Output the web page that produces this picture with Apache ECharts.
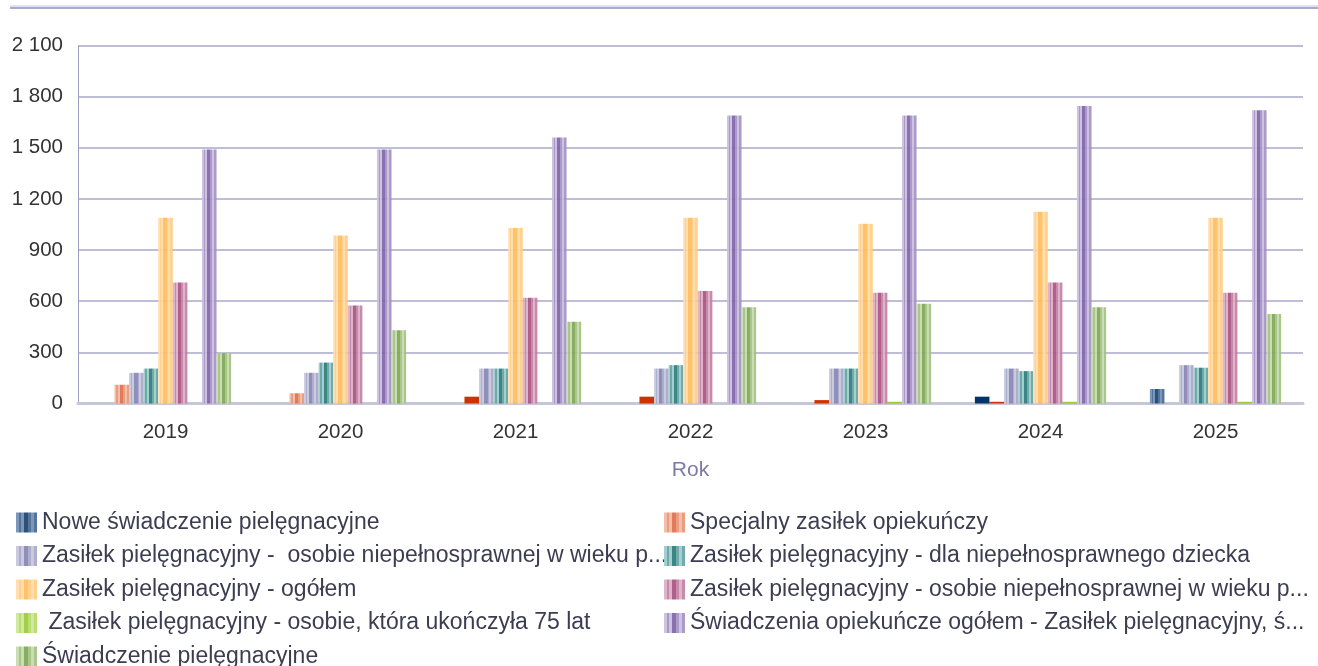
<!DOCTYPE html>
<html>
<head>
<meta charset="utf-8">
<script src="https://cdn.jsdelivr.net/npm/echarts@6/dist/echarts.min.js"></script>
<style>
  html, body { margin: 0; padding: 0; background: #ffffff; }
  #chart { width: 1318px; height: 666px; }
</style>
</head>
<body>
<div id="chart"></div>
<script>
// Years on the category axis
const years = ['2019', '2020', '2021', '2022', '2023', '2024', '2025'];

// Series names
const seriesNames = [
  'Nowe świadczenie pielęgnacyjne',
  'Specjalny zasiłek opiekuńczy',
  'Zasiłek pielęgnacyjny -  osobie niepełnosprawnej w wieku powyżej 16 roku życia o umiarkowanym stopniu niepełnosprawności',
  'Zasiłek pielęgnacyjny - dla niepełnosprawnego dziecka',
  'Zasiłek pielęgnacyjny - ogółem',
  'Zasiłek pielęgnacyjny - osobie niepełnosprawnej w wieku powyżej 16 roku życia o znacznym stopniu niepełnosprawności',
  ' Zasiłek pielęgnacyjny - osobie, która ukończyła 75 lat',
  'Świadczenia opiekuńcze ogółem - Zasiłek pielęgnacyjny, świadczenie pielęgnacyjne, specjalny zasiłek opiekuńczy',
  'Świadczenie pielęgnacyjne'
];

// Values per series, one entry per year
const noweSwiadczenie = [0, 0, 0, 0, 0, 40, 85];
const specjalnyZasilek = [110, 60, 40, 40, 20, 10, 0];
const zpUmiarkowany = [180, 180, 205, 205, 205, 205, 225];
const zpDziecko = [205, 240, 205, 225, 205, 190, 210];
const zpOgolem = [1090, 985, 1030, 1090, 1055, 1125, 1090];
const zpZnaczny = [710, 575, 620, 660, 650, 710, 650];
const zp75 = [0, 0, 0, 0, 10, 10, 10];
const opiekunczeOgolem = [1490, 1490, 1560, 1690, 1690, 1745, 1720];
const swiadczeniePiel = [295, 430, 480, 565, 585, 565, 525];

// Value axis ticks
const yTicks = [0, 300, 600, 900, 1200, 1500, 1800, 2100];

const seriesValues = [
  noweSwiadczenie, specjalnyZasilek, zpUmiarkowany, zpDziecko, zpOgolem,
  zpZnaczny, zp75, opiekunczeOgolem, swiadczeniePiel
];

// Palette: light stripe, dark stripe, solid fill for short bars
const palette = [
  { light: '#6f8fb6', dark: '#1d406c', solid: '#003366' },
  { light: '#f3b9a0', dark: '#df6f4c', solid: '#cc3300' },
  { light: '#c6c6dc', dark: '#8585b4', solid: '#9a9ac4' },
  { light: '#9ccbca', dark: '#2a7b7b', solid: '#2a7b7b' },
  { light: '#ffdcaa', dark: '#ffbd5c', solid: '#ffbd5c' },
  { light: '#dcaec6', dark: '#a9527f', solid: '#a9527f' },
  { light: '#cce79a', dark: '#99cc33', solid: '#99cc33' },
  { light: '#c8bede', dark: '#8064aa', solid: '#8064aa' },
  { light: '#c4dbac', dark: '#7fa655', solid: '#7fa655' }
];

function mix(a, b, t) {
  const pa = [1, 3, 5].map(i => parseInt(a.substr(i, 2), 16));
  const pb = [1, 3, 5].map(i => parseInt(b.substr(i, 2), 16));
  return 'rgb(' + pa.map((v, i) => Math.round(v + (pb[i] - v) * t)).join(',') + ')';
}

// Vertical stripe fill built from a light and a dark tone
function stripes(light, dark) {
  const m = mix(light, dark, 0.5);
  const stops = [
    [0.00, light], [0.12, light], [0.12, m], [0.22, m], [0.22, light],
    [0.36, light], [0.36, dark], [0.58, dark], [0.58, m], [0.70, m],
    [0.70, light], [0.84, light], [0.84, m], [1.00, m]
  ];
  return new echarts.graphic.LinearGradient(0, 0, 1, 0,
    stops.map(s => ({ offset: s[0], color: s[1] })));
}

const series = seriesNames.map((name, i) => ({
  name: name,
  type: 'bar',
  barGap: '0%',
  barCategoryGap: '25%',
  itemStyle: { color: stripes(palette[i].light, palette[i].dark), opacity: 0.92 },
  emphasis: { disabled: true },
  data: seriesValues[i].map(v => v > 0 && v < 50
    ? { value: v, itemStyle: { color: palette[i].solid, opacity: 1 } }
    : v)
}));

const FONT = 'Liberation Sans, Arial, sans-serif';
const LEGEND_SIZE = 23;
const LEGEND_TEXT_WIDTH = 611;

// Shorten long legend entries to the column width, ending with "..."
const measureCtx = document.createElement('canvas').getContext('2d');
measureCtx.font = LEGEND_SIZE + 'px "Liberation Sans", Arial, sans-serif';
function fitLegend(name) {
  if (measureCtx.measureText(name).width <= LEGEND_TEXT_WIDTH) return name;
  let s = name;
  while (s.length && measureCtx.measureText(s).width > LEGEND_TEXT_WIDTH) s = s.slice(0, -1);
  return s + '...';
}

const legendText = {
  color: '#3d3d52',
  fontSize: LEGEND_SIZE,
  fontFamily: FONT,
  lineHeight: 23
};

function legendColumn(left, idx) {
  return {
    orient: 'vertical', left: left, top: 511, height: 200,
    padding: 0,
    itemWidth: 21, itemHeight: 20, itemGap: 10.5,
    icon: 'rect', selectedMode: false,
    textStyle: legendText,
    formatter: fitLegend,
    data: idx.map(i => seriesNames[i])
  };
}

const chart = echarts.init(document.getElementById('chart'), null, { renderer: 'canvas' });
chart.setOption({
  animation: false,
  backgroundColor: '#ffffff',
  grid: { left: 78, right: 15, top: 45.5, bottom: 262.5, containLabel: false },
  graphic: [
    { type: 'line', shape: { x1: 10, y1: 6, x2: 1318, y2: 6 }, style: { stroke: '#c4c4de', lineWidth: 1 } },
    { type: 'line', shape: { x1: 10, y1: 8, x2: 1318, y2: 8 }, style: { stroke: '#8e8eba', lineWidth: 1.5 } }
  ],
  legend: [
    legendColumn(16, [0, 2, 4, 6, 8]),
    legendColumn(664, [1, 3, 5, 7])
  ],
  xAxis: {
    type: 'category',
    data: years,
    name: 'Rok',
    nameLocation: 'middle',
    nameGap: 56,
    nameTextStyle: { color: '#7b7bab', fontSize: 21, fontFamily: FONT, verticalAlign: 'top' },
    axisLine: { lineStyle: { color: '#c6c6d8', width: 3 } },
    axisTick: { show: false },
    axisLabel: { color: '#333333', fontSize: 20.5, margin: 18, fontFamily: FONT }
  },
  yAxis: {
    type: 'value',
    min: yTicks[0],
    max: yTicks[yTicks.length - 1],
    interval: yTicks[1] - yTicks[0],
    axisLine: { show: true, lineStyle: { color: '#9e9ec4', width: 1 } },
    axisTick: { show: false },
    splitLine: { lineStyle: { color: '#a8a8c8', width: 1.5 } },
    axisLabel: {
      color: '#333333', fontSize: 20.5, margin: 15,
      fontFamily: FONT,
      formatter: v => String(v).replace(/\B(?=(\d{3})+(?!\d))/g, ' ')
    }
  },
  series: series
});
</script>
</body>
</html>
